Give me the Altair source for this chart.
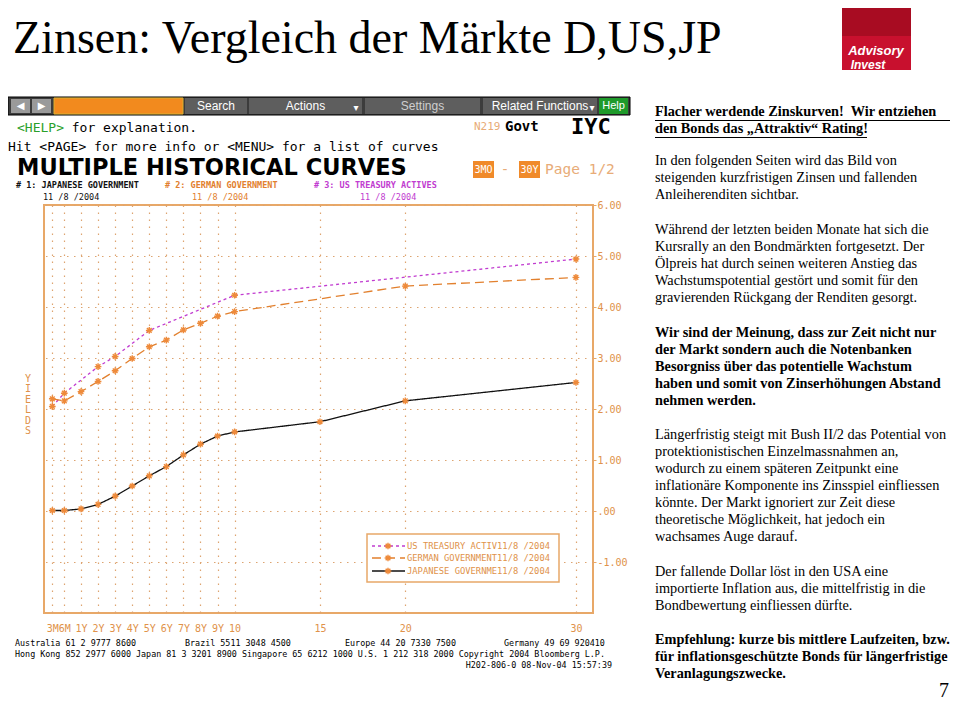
import altair as alt
import pandas as pd

# ---------------- data ----------------
series_names = ["US TREASURY ACTIVES", "GERMAN GOVERNMENT", "JAPANESE GOVERNMENT"]
legend_labels = ["US TREASURY ACTIV11/8 /2004", "GERMAN GOVERNMENT11/8 /2004", "JAPANESE GOVERNME11/8 /2004"]
us_mat = [0.25, 0.5, 2, 3, 5, 10, 30]
us_yld = [2.05, 2.31, 2.83, 3.03, 3.54, 4.23, 4.94]
de_mat = [0.25, 0.5, 1, 2, 3, 4, 5, 6, 7, 8, 9, 10, 20, 30]
de_yld = [2.20, 2.16, 2.34, 2.54, 2.75, 2.99, 3.22, 3.35, 3.55, 3.68, 3.82, 3.91, 4.41, 4.58]
jp_mat = [0.25, 0.5, 1, 2, 3, 4, 5, 6, 7, 8, 9, 10, 15, 20, 30]
jp_yld = [0.01, 0.01, 0.04, 0.13, 0.29, 0.49, 0.69, 0.87, 1.10, 1.31, 1.47, 1.55, 1.75, 2.16, 2.52]
tick_mat = [0.25, 0.5, 1, 2, 3, 4, 5, 6, 7, 8, 9, 10, 15, 20, 30]
tick_lbl = ["3M", "6M", "1Y", "2Y", "3Y", "4Y", "5Y", "6Y", "7Y", "8Y", "9Y", "10", "15", "20", "30"]
y_ticks = [-1, 0, 1, 2, 3, 4, 5, 6]

title_text = "Zinsen: Vergleich der Märkte D,US,JP"
para_head = ["Flacher werdende Zinskurven!\u00a0 Wir entziehen",
             "den Bonds das \u201eAttraktiv\u201c Rating!"]
para_2 = ["In den folgenden Seiten wird das Bild von",
          "steigenden kurzfristigen Zinsen und fallenden",
          "Anleiherenditen sichtbar."]
para_3 = ["Während der letzten beiden Monate hat sich die",
          "Kursrally an den Bondmärkten fortgesetzt. Der",
          "Ölpreis hat durch seinen weiteren Anstieg das",
          "Wachstumspotential gestört und somit für den",
          "gravierenden Rückgang der Renditen gesorgt."]
para_4 = ["Wir sind der Meinung, dass zur Zeit nicht nur",
          "der Markt sondern auch die Notenbanken",
          "Besorgniss über das potentielle Wachstum",
          "haben und somit von Zinserhöhungen Abstand",
          "nehmen werden."]
para_5 = ["Längerfristig steigt mit Bush II/2 das Potential von",
          "protektionistischen Einzelmassnahmen an,",
          "wodurch zu einem späteren Zeitpunkt eine",
          "inflationäre Komponente ins Zinsspiel einfliessen",
          "könnte. Der Markt ignoriert zur Zeit diese",
          "theoretische Möglichkeit, hat jedoch ein",
          "wachsames Auge darauf."]
para_6 = ["Der fallende Dollar löst in den USA eine",
          "importierte Inflation aus, die mittelfristig in die",
          "Bondbewertung einfliessen dürfte."]
para_7 = ["Empfehlung: kurze bis mittlere Laufzeiten, bzw.",
          "für inflationsgeschützte Bonds für längerfristige",
          "Veranlagungszwecke."]

rows = []
for name, mats, ylds in [(series_names[0], us_mat, us_yld),
                         (series_names[1], de_mat, de_yld),
                         (series_names[2], jp_mat, jp_yld)]:
    for m, v in zip(mats, ylds):
        rows.append({"series": name, "maturity": m, "yield": v})
df = pd.DataFrame(rows)

# ---------------- styling / layout ----------------
MONO = "DejaVu Sans Mono"
SERIF = "Liberation Serif"
SANS = "Liberation Sans"
ORANGE = "#E8A868"
GRID = "#DDA470"
LBL = "#E0924A"
MARK = "#EE8A3A"
MAGENTA = "#C13CD0"
DORANGE = "#E2802E"
TAN = "#E8AC78"
STAR = "M-1,0L1,0M0,-1L0,1M-0.7,-0.7L0.7,0.7M-0.7,0.7L0.7,-0.7"

OX, OY = 44, 205      # plot origin on page
PW, PH = 549, 408
one = pd.DataFrame({"k": [0]})


def T(px, py, s, size=13, color="#000000", font=MONO, weight="normal",
      align="left", baseline="middle", style="normal"):
    return alt.Chart(one).mark_text(
        align=align, baseline=baseline, font=font, fontSize=size,
        fontWeight=weight, fontStyle=style, color=color
    ).encode(x=alt.value(px - OX), y=alt.value(py - OY), text=alt.value(s))


def BOX(x1, y1, x2, y2, fill, stroke=None, sw=1.0):
    kw = dict(fill=fill)
    if stroke:
        kw.update(stroke=stroke, strokeWidth=sw)
    return alt.Chart(one).mark_rect(**kw).encode(
        x=alt.value(x1 - OX), x2=alt.value(x2 - OX),
        y=alt.value(y1 - OY), y2=alt.value(y2 - OY))


def LINE(x1, y1, x2, y2, color, sw=1.0, dash=None):
    kw = dict(color=color, strokeWidth=sw)
    if dash:
        kw["strokeDash"] = dash
    return alt.Chart(one).mark_rule(**kw).encode(
        x=alt.value(x1 - OX), x2=alt.value(x2 - OX),
        y=alt.value(y1 - OY), y2=alt.value(y2 - OY))


def STARPT(px, py):
    return alt.Chart(one).mark_point(
        shape=STAR, size=45, filled=False, strokeWidth=1.4, color=MARK, opacity=1
    ).encode(x=alt.value(px - OX), y=alt.value(py - OY))


# ---------------- main plot ----------------
mat_list = ",".join(str(m) for m in tick_mat)
lbl_list = ",".join("'" + l + "'" for l in tick_lbl)
x_axis = alt.Axis(values=tick_mat, labelExpr=f"[{lbl_list}][indexof([{mat_list}], datum.value)]",
                  grid=True, gridDash=[1.5, 5.5], gridColor=GRID, gridWidth=1.2,
                  domain=False, ticks=False, labelPadding=10, labelColor=LBL,
                  labelFont=MONO, labelFontSize=10, labelAngle=0, labelOverlap=False,
                  title=None)
y_axis = alt.Axis(orient="right", values=y_ticks,
                  labelExpr="datum.value == 0 ? '.00' : (datum.value < 0 ? '-' + format(-datum.value, '.2f') : format(datum.value, '.2f'))",
                  grid=True, gridDash=[1.5, 5.5], gridColor=GRID, gridWidth=1.2,
                  domain=False, ticks=True, tickSize=3, tickColor=ORANGE,
                  labelPadding=1, labelColor=LBL, labelFont=MONO, labelFontSize=10,
                  title=None)
xscale = alt.Scale(domain=[0, 0.25, 0.5, 1, 31], range=[0, 8.3, 20.3, 37, PW], nice=False, zero=False)
yscale = alt.Scale(domain=[-2, 6], nice=False, zero=False)

base = alt.Chart(df).encode(
    x=alt.X("maturity:Q", scale=xscale, axis=x_axis),
    y=alt.Y("yield:Q", scale=yscale, axis=y_axis),
)
lines = base.mark_line(strokeWidth=1.3).encode(
    color=alt.Color("series:N", scale=alt.Scale(domain=series_names, range=[MAGENTA, DORANGE, "#101010"]), legend=None),
    strokeDash=alt.StrokeDash("series:N", scale=alt.Scale(domain=series_names, range=[[3, 3], [9, 5], [1, 0]]), legend=None),
    detail="series:N",
)
points = base.mark_point(shape=STAR, size=45, filled=False, strokeWidth=1.4, color=MARK, opacity=1).encode(
    detail="series:N")

layers = []

# ---------------- slide title & logo ----------------
layers.append(T(13, 39, title_text, size=46, font=SERIF))
layers.append(BOX(842, 2, 911, 70, "#C8102E"))
layers.append(BOX(842, 2, 911, 36, "#A80C22"))
layers.append(T(876, 51, "Advisory", size=13, color="white", font=SANS, weight="bold", style="italic", align="center"))
layers.append(T(868, 64.5, "Invest", size=12, color="white", font=SANS, weight="bold", style="italic", align="center"))

# ---------------- Bloomberg toolbar ----------------
layers.append(BOX(8, 97, 630, 115, "#3c3c3c", "#000000", 1))
layers.append(BOX(11, 99, 30, 113, "#9a9a9a"))
layers.append(BOX(32, 99, 51, 113, "#9a9a9a"))
layers.append(T(20.5, 106, "\u25c0", size=10, color="white", font="DejaVu Sans", align="center"))
layers.append(T(41.5, 106, "\u25b6", size=10, color="white", font="DejaVu Sans", align="center"))
layers.append(BOX(54, 98, 183, 114, "#F28A1E", "#d9b030", 1))
for (x1, x2, lab, col) in [(185, 247, "Search", "white"), (249, 362, "Actions", "white"),
                           (365, 480, "Settings", "#cfcfcf"), (483, 597, "Related Functions", "white")]:
    layers.append(BOX(x1, 98, x2, 114, "#5e5e5e"))
    layers.append(T((x1 + x2) / 2, 106, lab, size=12, color=col, font=SANS, align="center"))
layers.append(T(356, 108, "\u25be", size=10, color="white", font="DejaVu Sans", align="center"))
layers.append(T(592, 108, "\u25be", size=10, color="white", font="DejaVu Sans", align="center"))
layers.append(BOX(599, 98, 628, 114, "#1e9a2a"))
layers.append(T(613.5, 106, "Help", size=11, color="white", font=SANS, align="center"))

# ---------------- Bloomberg header text ----------------
CW = 13 * 0.602
layers.append(T(17, 128, "<HELP>", size=13, color="#2aa02a"))
layers.append(T(17 + 7 * CW, 128, "for explanation.", size=13))
layers.append(T(8, 147, "Hit <PAGE> for more info or <MENU> for a list of curves", size=13))
layers.append(T(474, 127, "N219", size=11, color=TAN))
layers.append(T(505, 127, "Govt", size=14, weight="bold"))
layers.append(T(571, 127, "IYC", size=22, weight="bold"))
layers.append(T(17, 168, "MULTIPLE HISTORICAL CURVES", size=22.5, weight="bold", font="DejaVu Sans"))
layers.append(BOX(473, 161, 494, 178, "#F08A2A"))
layers.append(T(483.5, 170, "3MO", size=10, color="white", align="center"))
layers.append(T(505, 170, "-", size=14, color=TAN, align="center"))
layers.append(BOX(519, 161, 540, 178, "#F08A2A"))
layers.append(T(529.5, 170, "30Y", size=10, color="white", align="center"))
layers.append(T(545, 170, "Page 1/2", size=14.5, color=TAN))
layers.append(T(16, 184.5, "# 1: JAPANESE GOVERNMENT", size=8.5, weight="bold", color="#111111"))
layers.append(T(165, 184.5, "# 2: GERMAN GOVERNMENT", size=8.5, weight="bold", color=DORANGE))
layers.append(T(314, 184.5, "# 3: US TREASURY ACTIVES", size=8.5, weight="bold", color=MAGENTA))
layers.append(T(43, 197, "11 /8 /2004", size=8.5, color="#111111"))
layers.append(T(192, 197, "11 /8 /2004", size=8.5, color=DORANGE))
layers.append(T(360, 197, "11 /8 /2004", size=8.5, color=MAGENTA))

# YIELDS vertical label
for i, ch in enumerate("YIELDS"):
    layers.append(T(28, 379 + i * 10.4, ch, size=10, color=LBL, align="center"))

# ---------------- data layers ----------------
layers.append(lines)
layers.append(points)

# ---------------- legend box ----------------
layers.append(BOX(367, 534, 559, 582, "white", ORANGE, 1.5))
leg_y = [546, 558, 571]
leg_col = [MAGENTA, DORANGE, "#101010"]
leg_dash = [[3, 3], [9, 5], None]
for yy, col, dash, lab in zip(leg_y, leg_col, leg_dash, legend_labels):
    layers.append(LINE(372, yy, 405, yy, col, 1.3, dash))
    layers.append(STARPT(388, yy))
    layers.append(T(407, yy, lab, size=8.8, color=LBL))

# ---------------- Bloomberg footer ----------------
FS = 8.4
layers.append(T(15, 643, "Australia 61 2 9777 8600", size=FS))
layers.append(T(185, 643, "Brazil 5511 3048 4500", size=FS))
layers.append(T(345, 643, "Europe 44 20 7330 7500", size=FS))
layers.append(T(504, 643, "Germany 49 69 920410", size=FS))
layers.append(T(15, 654, "Hong Kong 852 2977 6000 Japan 81 3 3201 8900 Singapore 65 6212 1000 U.S. 1 212 318 2000 Copyright 2004 Bloomberg L.P.", size=FS))
layers.append(T(612, 665, "H202-806-0 08-Nov-04 15:57:39", size=FS, align="right"))

# ---------------- right-hand text column ----------------
def para(lines_, y0, bold=False):
    out = []
    for i, s in enumerate(lines_):
        out.append(T(655, y0 + i * 17, s, size=14.3, font=SERIF, weight="bold" if bold else "normal"))
    return out

layers += para(para_head, 112, bold=True)
layers.append(LINE(655, 120.5, 950, 120.5, "#000000", 1))
layers.append(LINE(655, 137.5, 867, 137.5, "#000000", 1))
layers += para(para_2, 161)
layers += para(para_3, 230)
layers += para(para_4, 333, bold=True)
layers += para(para_5, 435)
layers += para(para_6, 572)
layers += para(para_7, 640, bold=True)
layers.append(T(944, 691, "7", size=20, font=SERIF, align="center"))

chart = alt.layer(*layers).properties(
    width=PW, height=PH,
    autosize=alt.AutoSizeParams(type="none"),
    padding={"left": OX - 8, "top": OY - 8, "right": 944 - (OX - 8) - PW, "bottom": 694 - (OY - 8) - PH},
    background="white",
).configure_view(stroke=ORANGE, strokeWidth=2)

chart.save("out.html", embed_options={"renderer": "svg", "actions": False})
